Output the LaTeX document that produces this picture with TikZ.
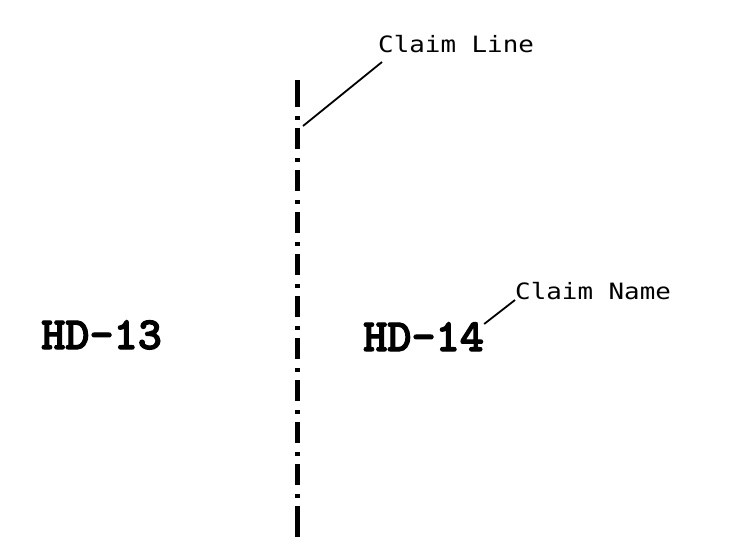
\documentclass[tikz,border=0pt]{standalone}
\usepackage{fontspec}
\usetikzlibrary{calc}
\newfontfamily\lblfont{DejaVu Sans Mono}[FakeStretch=1.15]
\newfontfamily\hdfont{lmmonolt10-bold.otf}[FakeBold=2.5]
\begin{document}
\begin{tikzpicture}[x=1pt,y=-1pt,
  claimline/.style={line width=5pt, dash pattern=on 21pt off 9pt on 4pt off 8pt, dash phase=36pt},
  claimend/.style={line width=5pt},
  leader/.style={line width=1.8pt},
  hd/.style={font=\hdfont\fontsize{46}{46}\selectfont, inner sep=0pt, anchor=base west},
  lbl/.style={font=\lblfont\fontsize{22.5}{22.5}\selectfont, inner sep=0pt, anchor=base west}]
\fill[white] (0,0) rectangle (745,560);
\useasboundingbox (0,0) rectangle (745,560);
% claim line
\coordinate (ct) at (297,80);
\coordinate (cb) at (297,537);
\draw[claimline] (ct) -- (cb);
\draw[claimend] (ct) -- ($(ct)+(0,27)$);
\draw[claimend] (cb) -- ($(cb)+(0,-30)$);
% labels
\node[lbl] (cl) at (378,52) {Claim Line};
\node[lbl] (cn) at (515,299) {Claim Name};
\node[hd] (hd13) at (41,349) {HD-13};
\node[hd] (hd14) at (363,351) {HD-14};
% leaders
\coordinate (clp) at (303,126);
\draw[leader] (clp) -- ($(cl.base west)+(4,10)$);
\draw[leader] ($(hd14.base east)+(0,-27)$) -- ($(cn.base west)+(0,1)$);
\end{tikzpicture}
\end{document}
